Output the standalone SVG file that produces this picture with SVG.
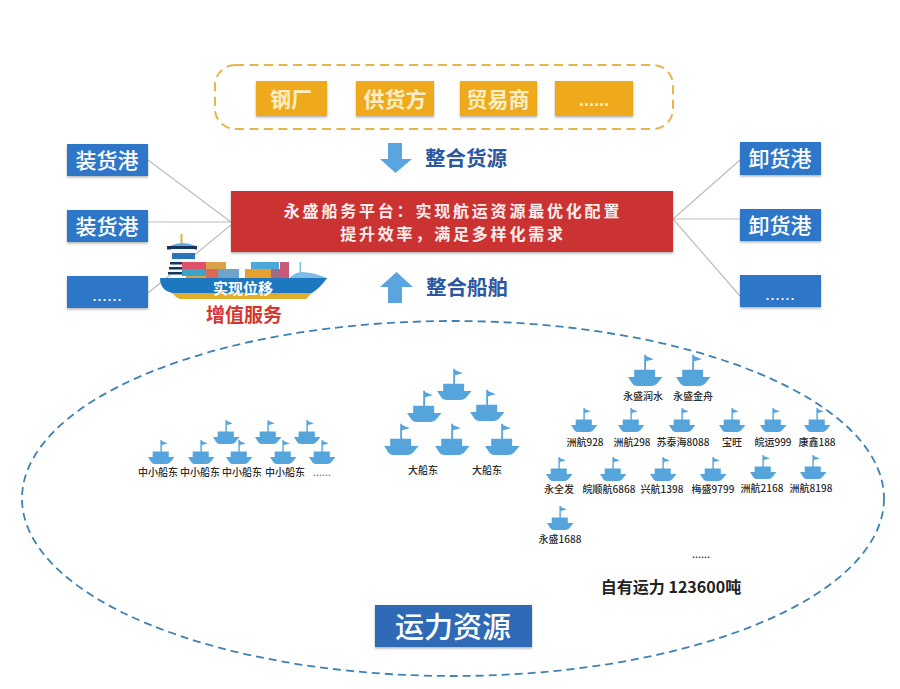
<svg xmlns="http://www.w3.org/2000/svg" xmlns:xlink="http://www.w3.org/1999/xlink" width="900" height="689" viewBox="0 0 900 689">
<style>
text{font-family:"Noto Sans CJK SC","Liberation Sans",sans-serif;text-anchor:middle;dominant-baseline:central}
.o{fill:#eeaa1f;filter:url(#sh)}
.ot{font-size:21px;font-weight:700;fill:#fbeec4}
.b{fill:#2e77c8;filter:url(#sh)}
.bt{font-size:21px;font-weight:500;fill:#fff}
.hd{font-size:20.500px;font-weight:700;fill:#2b58a0}
.rt{font-size:16px;font-weight:700;fill:#fdeeee;letter-spacing:2.8px}
.l{font-size:10px;font-weight:500;fill:#2a2a2a}
.d{font-size:18px;font-family:"Liberation Sans",sans-serif}
.c{stroke:#bdbdbd;stroke-width:1.2;fill:none}
.s{fill:#55a5dc}
</style>
<defs>
<filter id="sh" x="-10%" y="-20%" width="120%" height="150%"><feDropShadow dx="0" dy="1.5" stdDeviation="1.2" flood-color="#555" flood-opacity=".45"/></filter>
<g id="ship"><path class="s" d="M-.6-24h1.400v1l6 2.400-6 1.600V-12.500h7V-7h5.700L9-1.500Q7 0 5 0H-6Q-8 0-9.500-1.500L-13-7h4.700v-5.500H-.6z"/></g>
</defs>
<rect width="900" height="689" fill="#fff"/>
<g id="connectors">
<path class="c" d="M148 160 231 222M148 222H231M148 293 231 225M673 219 740 160M673 219H740M673 219 740 296"/>
</g>
<g id="sources-frame"><rect x="215" y="65" width="458" height="64" rx="20" fill="none" stroke="#e8b34a" stroke-width="2" stroke-dasharray="9 5.500"/></g>
<g id="steel"><rect class="o" x="256" y="81" width="71" height="35"/><text class="ot" x="291" y="98">钢厂</text></g>
<g id="supplier"><rect class="o" x="356" y="81" width="78" height="35"/><text class="ot" x="395" y="98">供货方</text></g>
<g id="trader"><rect class="o" x="460" y="81" width="77" height="35"/><text class="ot" x="498" y="98">贸易商</text></g>
<g id="more-sources"><rect class="o" x="555" y="81" width="78" height="35"/><text class="ot d" x="594" y="100" style="font-size:18px">......</text></g>
<g id="load1"><rect class="b" x="67" y="144" width="81" height="32"/><text class="bt" x="107" y="159">装货港</text></g>
<g id="load2"><rect class="b" x="67" y="210" width="81" height="32"/><text class="bt" x="107" y="225">装货港</text></g>
<g id="load3"><rect class="b" x="67" y="276" width="81" height="32"/><text class="bt d" x="107" y="295" style="font-size:18px">......</text></g>
<g id="unload1"><rect class="b" x="740" y="142" width="81" height="33"/><text class="bt" x="780" y="157">卸货港</text></g>
<g id="unload2"><rect class="b" x="740" y="209" width="81" height="32"/><text class="bt" x="780" y="224">卸货港</text></g>
<g id="unload3"><rect class="b" x="740" y="275" width="81" height="32"/><text class="bt d" x="780" y="294" style="font-size:18px">......</text></g>
<g id="platform"><rect x="231" y="191" width="442" height="61" fill="#cb3232" filter="url(#sh)"/>
<text class="rt" x="453" y="210">永盛船务平台：实现航运资源最优化配置</text>
<text class="rt" x="453" y="233">提升效率，满足多样化需求</text></g>
<g id="merge-cargo"><path d="M388 143h14v16h10l-16.500 14L380 159h8z" fill="#5aa5e0"/><text class="hd" x="466" y="157">整合货源</text></g>
<g id="merge-ships"><path d="M388 303h14v-16h11l-16.500-15L380 287h8z" fill="#5aa5e0"/><text class="hd" x="467" y="286">整合船舶</text></g>
<g id="vessel">
<rect x="180.500" y="234" width="2" height="10" fill="#d9b24c"/>
<path d="M170 246q12-6 26 0z" fill="#5fb0e0"/>
<rect x="167" y="246" width="30" height="3.500" fill="#16365f"/>
<rect x="171" y="249" width="24" height="30" fill="#f4f8fb"/>
<rect x="172" y="253" width="23" height="6" fill="#2a74b8"/>
<rect x="170" y="262" width="13" height="2.500" fill="#16365f"/><rect x="169" y="267" width="14" height="2.500" fill="#16365f"/><rect x="168" y="272" width="15" height="2.500" fill="#16365f"/>
<rect x="182" y="262" width="24" height="7" fill="#e0506a"/><rect x="182" y="269" width="24" height="7" fill="#3aa3c7"/><rect x="186" y="276" width="20" height="4" fill="#d9a24a"/>
<rect x="206" y="262" width="20" height="7" fill="#d9a24a"/><rect x="206" y="269" width="12" height="9" fill="#d96a58"/><rect x="218" y="269" width="21" height="9" fill="#6fa3c8"/>
<rect x="245" y="269" width="26" height="10" fill="#e8a030"/>
<rect x="251" y="262" width="28" height="7" fill="#4ba8d8"/><rect x="271" y="269" width="9" height="10" fill="#9d6a8a"/>
<rect x="280" y="262" width="9" height="17" fill="#c85a78"/>
<rect x="299.500" y="262" width="1.500" height="10" fill="#7bbde6"/>
<path d="M288 280q6-8 14-8 10 0 25 6l-3 3z" fill="#7bbde6"/>
<path d="M160 278H327q-7 10-15 15H172q-12-3-12-15z" fill="#1e78c0"/>
<path d="M172 293H312l-6 6H180q-5-2-8-6z" fill="#e3ad2c"/>
<text x="243" y="287" style="font-size:15px;font-weight:700;fill:#fff">实现位移</text>
<text x="244" y="313" style="font-size:19px;font-weight:700;fill:#d7352f">增值服务</text>
</g>
<g id="capacity-frame"><ellipse cx="453" cy="498.500" rx="431" ry="177.500" fill="none" stroke="#3d82b4" stroke-width="1.800" stroke-dasharray="8 5"/></g>
<g id="small-owners">
<use xlink:href="#ship" x="161" y="464"/><use xlink:href="#ship" x="201" y="464"/><use xlink:href="#ship" x="239" y="464"/><use xlink:href="#ship" x="283" y="464"/><use xlink:href="#ship" x="322" y="464"/>
<use xlink:href="#ship" x="226" y="444"/><use xlink:href="#ship" x="268" y="444"/><use xlink:href="#ship" x="307" y="444"/>
<text class="l" x="158" y="471">中小船东</text><text class="l" x="200" y="471">中小船东</text><text class="l" x="242" y="471">中小船东</text><text class="l" x="285" y="471">中小船东</text><text class="l" x="322" y="471" style="fill:#777">......</text>
</g>
<g id="large-owners">
<use xlink:href="#ship" transform="translate(454 400) scale(1.300)"/><use xlink:href="#ship" transform="translate(424 422) scale(1.300)"/><use xlink:href="#ship" transform="translate(487 421) scale(1.300)"/>
<use xlink:href="#ship" transform="translate(401 455) scale(1.300)"/><use xlink:href="#ship" transform="translate(452 455) scale(1.300)"/><use xlink:href="#ship" transform="translate(502 455) scale(1.300)"/>
<text class="l" x="423" y="469">大船东</text><text class="l" x="487" y="469">大船东</text>
</g>
<g id="own-fleet">
<use xlink:href="#ship" transform="translate(645 386) scale(1.300)"/><use xlink:href="#ship" transform="translate(693 386) scale(1.300)"/>
<use xlink:href="#ship" x="584" y="432"/><use xlink:href="#ship" x="631" y="432"/><use xlink:href="#ship" x="682" y="432"/><use xlink:href="#ship" x="732" y="432"/><use xlink:href="#ship" x="773" y="432"/><use xlink:href="#ship" x="817" y="432"/>
<use xlink:href="#ship" x="559" y="481"/><use xlink:href="#ship" x="613" y="481"/><use xlink:href="#ship" x="663" y="481"/><use xlink:href="#ship" x="713" y="481"/><use xlink:href="#ship" x="763" y="479"/><use xlink:href="#ship" x="813" y="479"/>
<use xlink:href="#ship" x="560" y="530"/>
<text class="l" x="643" y="395">永盛润水</text><text class="l" x="693" y="395">永盛金舟</text>
<text class="l" x="585" y="441">洲航928</text><text class="l" x="632" y="441">洲航298</text><text class="l" x="683" y="441">苏泰海8088</text><text class="l" x="732" y="441">宝旺</text><text class="l" x="773" y="441">皖运999</text><text class="l" x="817" y="441">康鑫188</text>
<text class="l" x="559" y="488">永全发</text><text class="l" x="609" y="488">皖顺航6868</text><text class="l" x="662" y="488">兴航1398</text><text class="l" x="713" y="488">梅盛9799</text><text class="l" x="762" y="487">洲航2168</text><text class="l" x="811" y="487">洲航8198</text>
<text class="l" x="560" y="538">永盛1688</text>
<text class="l" x="701" y="553">......</text>
<text x="671" y="586" style="font-size:16px;font-weight:700;fill:#222">自有运力 123600吨</text>
</g>
<g id="capacity-title"><rect x="375" y="605" width="157" height="42" fill="#2f6ab5" filter="url(#sh)"/><text x="453" y="625" style="font-size:29px;font-weight:500;fill:#fff">运力资源</text></g>
</svg>
